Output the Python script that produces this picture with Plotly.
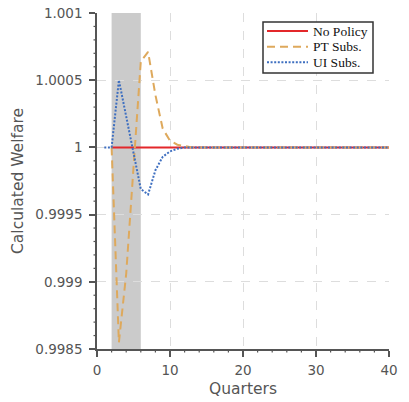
import plotly.graph_objects as go

# Quarters and welfare paths for each policy scenario
quarters = list(range(1, 41))

no_policy_q = list(range(2, 41))
no_policy = [1.0] * len(no_policy_q)

pt_subs_q = list(range(2, 41))
pt_subs = [1.0, 0.99855, 0.99906, 0.99985, 1.00064, 1.00071, 1.00039, 1.00014,
           1.00005, 1.00002, 1.00001] + [1.0] * 28

ui_subs = [1.0, 1.0, 1.0005, 1.00023, 0.99996, 0.99969, 0.99965, 0.99983,
           0.99993, 0.99997, 0.99999, 1.0] + [1.0] * 28

recession_start, recession_end = 2, 6

x_range = [0, 40]
y_range = [0.9985, 1.001]

# minor tick positions
x_minor = [v for v in range(0, 41, 2) if v % 10]
y_minor = [round(0.9985 + 0.0001 * i, 4) for i in range(26) if i % 5]

series_names = ["No Policy", "PT Subs.", "UI Subs."]
series_colors = ["#e3272a", "#dea95c", "#3e6fc0"]
series_dash = ["solid", "8px,5px", "2px,1.6px"]

AXIS_COLOR = "#555555"

# figure geometry (pixels)
W, H = 409, 402
ML, MR, MT, MB = 97, 20, 13, 53
PW, PH = W - ML - MR, H - MT - MB


def px_x(p):
    return (p - ML) / PW


def px_y(p):
    return (H - MB - p) / PH


def frac(v, rng):
    return (v - rng[0]) / (rng[1] - rng[0])


fig = go.Figure()

fig.add_vrect(x0=recession_start, x1=recession_end, fillcolor="#cbcbcb",
              opacity=1, line_width=0, layer="below")

for name, xs, ys, color, dash in zip(
        series_names, [no_policy_q, pt_subs_q, quarters],
        [no_policy, pt_subs, ui_subs], series_colors, series_dash):
    fig.add_trace(go.Scatter(x=xs, y=ys, mode="lines", name=name, showlegend=False,
                             line=dict(color=color, width=2, dash=dash)))

# minor ticks, outside the axes (paper space so they are not clipped)
MINOR_LEN = 3.5
for v in x_minor:
    fx = frac(v, x_range)
    fig.add_shape(type="line", xref="paper", yref="paper", x0=fx, x1=fx,
                  y0=-MINOR_LEN / PH, y1=0, line=dict(color=AXIS_COLOR, width=1.2),
                  layer="above")
for v in y_minor:
    fy = frac(v, y_range)
    fig.add_shape(type="line", xref="paper", yref="paper", y0=fy, y1=fy,
                  x0=-MINOR_LEN / PW, x1=0, line=dict(color=AXIS_COLOR, width=1.2),
                  layer="above")

# legend box drawn in paper space
fig.add_shape(type="rect", xref="paper", yref="paper",
              x0=px_x(263), x1=px_x(373), y0=px_y(73), y1=px_y(22),
              fillcolor="white", line=dict(color="#333333", width=1.5), layer="above")
row_y = [31, 46.7, 62.3]
for name, color, dash, ry in zip(series_names, series_colors, series_dash, row_y):
    fig.add_shape(type="line", xref="paper", yref="paper",
                  x0=px_x(267), x1=px_x(308), y0=px_y(ry), y1=px_y(ry),
                  line=dict(color=color, width=2, dash=dash), layer="above")
    fig.add_annotation(xref="paper", yref="paper", x=px_x(311), y=px_y(ry),
                       xanchor="left", yanchor="middle", showarrow=False, text=name,
                       font=dict(family="Liberation Serif", size=13.5, color="#111111"))

axis_common = dict(
    automargin=False, type="linear",
    showline=True, linecolor=AXIS_COLOR, linewidth=1.5,
    ticks="outside", ticklen=6, tickwidth=1.5, tickcolor=AXIS_COLOR,
    showgrid=True, gridcolor="#dddddd", griddash="dash", gridwidth=1,
    zeroline=False, mirror=False,
    tickfont=dict(family="DejaVu Sans", size=13.5, color=AXIS_COLOR),
)

fig.update_layout(
    xaxis=dict(
        range=x_range, tickmode="linear", tick0=0, dtick=10, ticklabelstandoff=2,
        title=dict(text="Quarters", font=dict(family="DejaVu Sans", size=15.5, color=AXIS_COLOR),
                   standoff=6),
        **axis_common,
    ),
    yaxis=dict(
        range=y_range, tickmode="linear", tick0=0.9985, dtick=0.0005, tickformat="~g",
        ticklabelstandoff=4,
        title=dict(text="Calculated Welfare",
                   font=dict(family="DejaVu Sans", size=15.5, color=AXIS_COLOR),
                   standoff=8),
        **axis_common,
    ),
)

fig.update_layout(
    width=W, height=H,
    margin=dict(l=ML, r=MR, t=MT, b=MB, autoexpand=False),
    plot_bgcolor="white", paper_bgcolor="white",
    showlegend=False,
)

fig.write_html("out.html")
